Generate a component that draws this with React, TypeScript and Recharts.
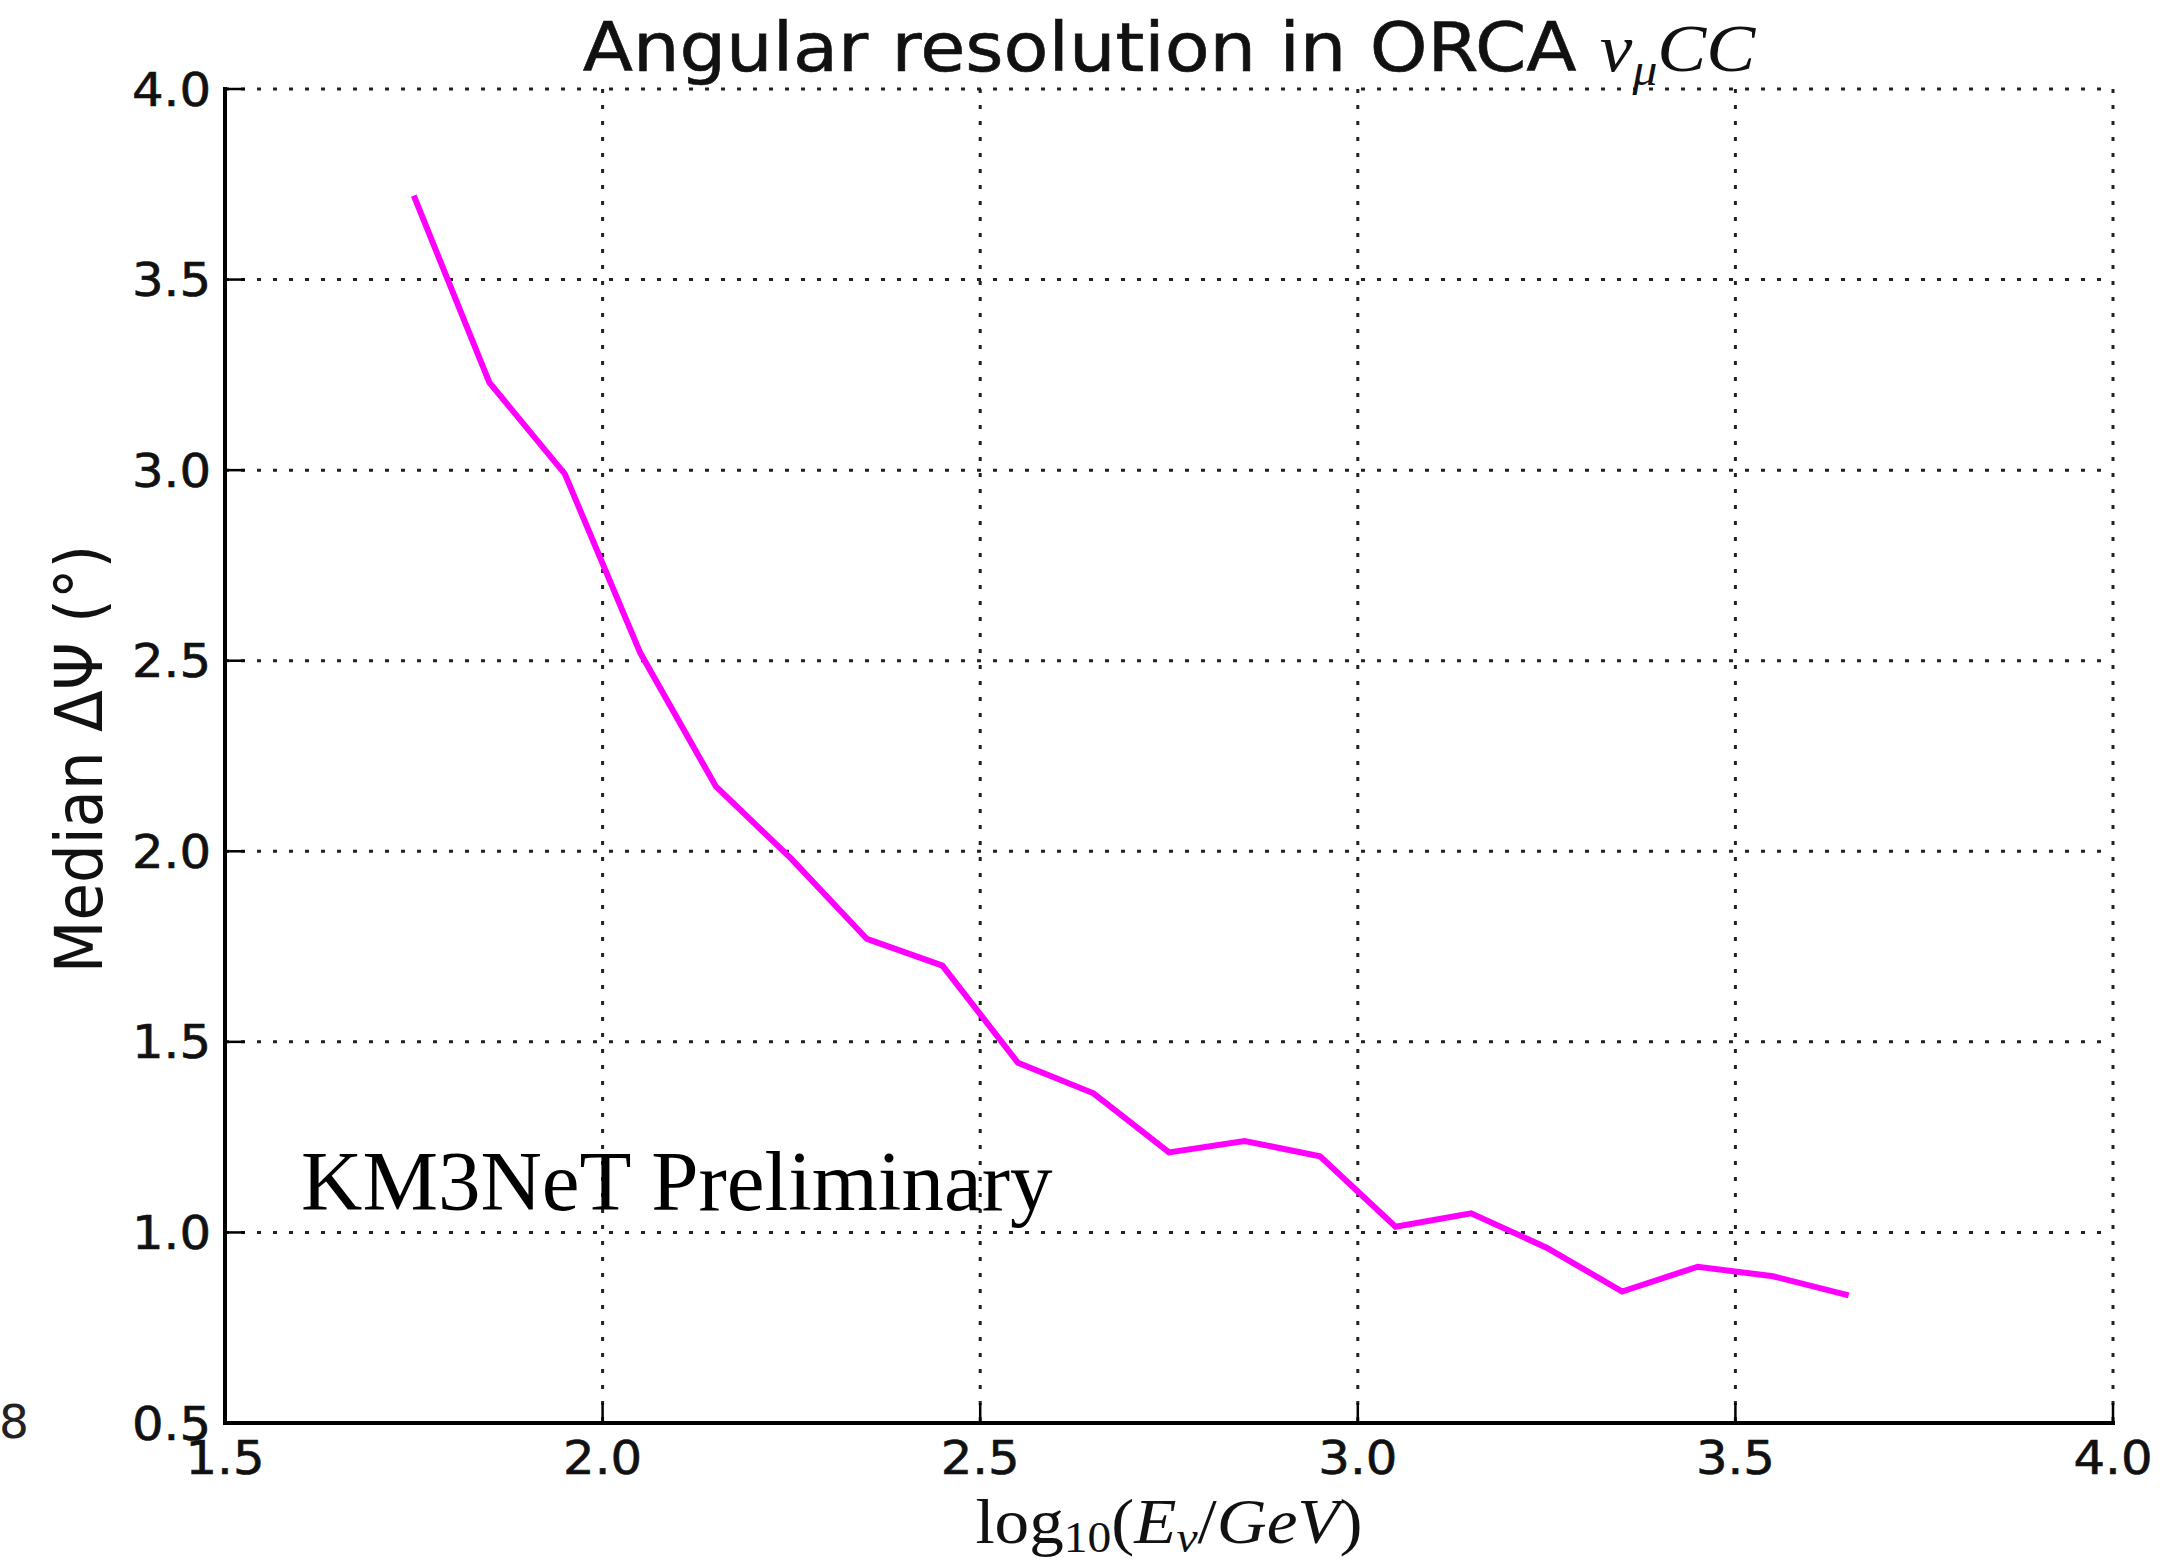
import React from "react";
import { LineChart, Line, XAxis, YAxis, CartesianGrid } from "recharts";

// ---- data ----
const LOG_E = [1.75, 1.85, 1.95, 2.05, 2.15, 2.25, 2.35, 2.45, 2.55, 2.65, 2.75, 2.85, 2.95, 3.05, 3.15, 3.25, 3.35, 3.45, 3.55, 3.65];
const MEDIAN_DPSI = [3.72, 3.23, 2.99, 2.52, 2.17, 1.98, 1.77, 1.70, 1.445, 1.365, 1.21, 1.24, 1.20, 1.015, 1.05, 0.96, 0.845, 0.91, 0.885, 0.835];
const X_TICKS = [1.5, 2.0, 2.5, 3.0, 3.5, 4.0];
const Y_TICKS = [0.5, 1.0, 1.5, 2.0, 2.5, 3.0, 3.5, 4.0];

const data = LOG_E.map((x, i) => ({ x, y: MEDIAN_DPSI[i] }));

// ---- layout ----
const W = 2166;
const H = 1565;
const PLOT_LEFT = 225;
const PLOT_RIGHT = 2113;
const PLOT_TOP = 89;
const PLOT_BOTTOM = 1423;
const XAXIS_H = 80;
const YAXIS_W = 120;
const TICK_MARGIN = 12;
const TICK_LEN = 20;
const TICK_FONT = 46;
const STRETCH = 1.08;

const BottomTick = (props: any) => {
  const { x, y, payload } = props;
  const axisY = y - TICK_MARGIN;
  return (
    <g>
      <line x1={x} x2={x} y1={axisY} y2={axisY - TICK_LEN} stroke="#000" strokeWidth={2.5} />
      <text
        transform={`translate(${x} ${axisY + 51}) scale(${STRETCH} 1)`}
        textAnchor="middle"
        fontFamily="DejaVu Sans"
        fontSize={TICK_FONT}
        fill="#111"
        stroke="#111"
        strokeWidth={0.6}
      >
        {Number(payload.value).toFixed(1)}
      </text>
    </g>
  );
};

const TopTick = (props: any) => {
  const { x, y } = props;
  const axisY = y + TICK_MARGIN;
  return <line x1={x} x2={x} y1={axisY} y2={axisY + TICK_LEN} stroke="#000" strokeWidth={2.5} />;
};

const LeftTick = (props: any) => {
  const { x, y, payload } = props;
  const axisX = x + TICK_MARGIN;
  return (
    <g>
      <line x1={axisX} x2={axisX + TICK_LEN} y1={y} y2={y} stroke="#000" strokeWidth={2.5} />
      <text
        transform={`translate(${axisX - 14} ${y + 16.5}) scale(${STRETCH} 1)`}
        textAnchor="end"
        fontFamily="DejaVu Sans"
        fontSize={TICK_FONT}
        fill="#111"
        stroke="#111"
        strokeWidth={0.6}
      >
        {Number(payload.value).toFixed(1)}
      </text>
    </g>
  );
};

const RightTick = (props: any) => {
  const { x, y } = props;
  const axisX = x - TICK_MARGIN;
  return <line x1={axisX} x2={axisX - TICK_LEN} y1={y} y2={y} stroke="#000" strokeWidth={2.5} />;
};

const frameLine = { stroke: "#000", strokeWidth: 4, strokeLinecap: "square" as const };

export default function App() {
  const cx = (PLOT_LEFT + PLOT_RIGHT) / 2;
  const cy = (PLOT_TOP + PLOT_BOTTOM) / 2;
  return (
    <div style={{ position: "absolute", left: 0, top: 0, width: W, height: H, background: "#fff" }}>
      <LineChart
        width={W}
        height={H}
        data={data}
        margin={{
          top: PLOT_TOP,
          right: W - PLOT_RIGHT,
          bottom: H - PLOT_BOTTOM - XAXIS_H,
          left: PLOT_LEFT - YAXIS_W,
        }}
      >
        <CartesianGrid
          stroke="#222"
          strokeWidth={3}
          strokeDasharray="4 12"
          horizontalValues={Y_TICKS}
          verticalValues={X_TICKS}
        />
        <XAxis
          dataKey="x"
          type="number"
          domain={[1.5, 4.0]}
          ticks={X_TICKS}
          interval={0}
          allowDataOverflow
          height={XAXIS_H}
          tickSize={0}
          tickMargin={TICK_MARGIN}
          tickLine={false}
          axisLine={frameLine}
          tick={<BottomTick />}
        />
        <XAxis
          xAxisId="top"
          orientation="top"
          type="number"
          domain={[1.5, 4.0]}
          ticks={X_TICKS}
          interval={0}
          allowDataOverflow
          height={0}
          tickSize={0}
          tickMargin={TICK_MARGIN}
          tickLine={false}
          axisLine={frameLine}
          tick={<TopTick />}
        />
        <YAxis
          type="number"
          domain={[0.5, 4.0]}
          ticks={Y_TICKS}
          interval={0}
          allowDataOverflow
          width={YAXIS_W}
          tickSize={0}
          tickMargin={TICK_MARGIN}
          tickLine={false}
          axisLine={frameLine}
          tick={<LeftTick />}
        />
        <YAxis
          yAxisId="right"
          orientation="right"
          type="number"
          domain={[0.5, 4.0]}
          ticks={Y_TICKS}
          interval={0}
          allowDataOverflow
          width={0}
          tickSize={0}
          tickMargin={TICK_MARGIN}
          tickLine={false}
          axisLine={frameLine}
          tick={<RightTick />}
        />
        <Line
          type="linear"
          dataKey="y"
          stroke="#ff00ff"
          strokeWidth={6}
          dot={false}
          isAnimationActive={false}
        />
      </LineChart>
      <svg
        width={W}
        height={H}
        style={{ position: "absolute", left: 0, top: 0, pointerEvents: "none" }}
      >
        <text
          transform={`translate(${cx} 71) scale(1.08 1)`}
          textAnchor="middle"
          fontFamily="DejaVu Sans"
          fontSize={68}
          fill="#111"
          stroke="#111"
          strokeWidth={0.6}
        >
          Angular resolution in ORCA{" "}
          <tspan fontFamily="Liberation Serif" fontStyle="italic" strokeWidth={0}>ν</tspan>
          <tspan fontFamily="Liberation Serif" fontStyle="italic" fontSize={46} dy={14} strokeWidth={0}>μ</tspan>
          <tspan fontFamily="Liberation Serif" fontStyle="italic" dy={-14} strokeWidth={0}>CC</tspan>
        </text>
        <text
          transform={`translate(${cx} 1543) scale(${STRETCH} 1)`}
          textAnchor="middle"
          fontFamily="Liberation Serif"
          fontSize={64}
          fill="#111"
        >
          <tspan>log</tspan>
          <tspan fontSize={44} dy={9}>10</tspan>
          <tspan dy={-9}>(</tspan>
          <tspan fontStyle="italic">E</tspan>
          <tspan fontStyle="italic" fontSize={44} dy={9}>ν</tspan>
          <tspan dy={-9}>/</tspan>
          <tspan fontStyle="italic">GeV</tspan>
          <tspan>)</tspan>
        </text>
        <text
          transform={`translate(79 ${cy + 3}) scale(${STRETCH} 1) rotate(-90)`}
          textAnchor="middle"
          dominantBaseline="central"
          fontFamily="DejaVu Sans"
          fontSize={61}
          fill="#111"
        >
          Median ΔΨ (°)
        </text>
        <text x={301} y={1210} fontFamily="Liberation Serif" fontSize={85} fill="#000">
          KM3NeT Preliminary
        </text>
        <text x={-1} y={1438} fontFamily="DejaVu Sans" fontSize={47} fill="#222">
          8
        </text>
      </svg>
    </div>
  );
}
